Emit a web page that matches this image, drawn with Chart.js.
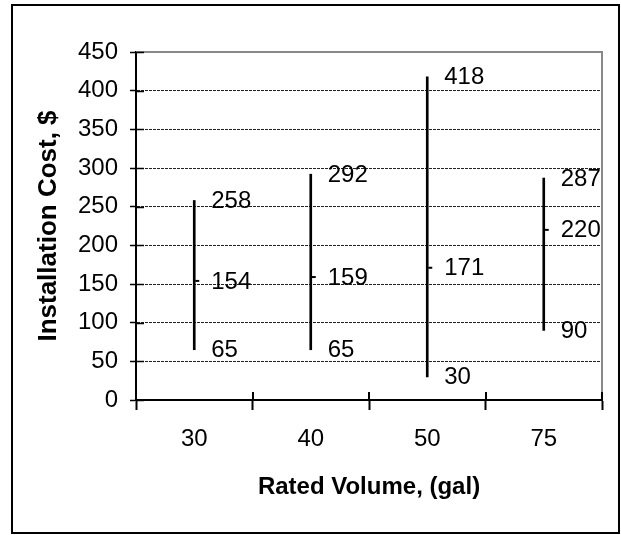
<!DOCTYPE html>
<html>
<head>
<meta charset="utf-8">
<script src="https://cdn.jsdelivr.net/npm/chart.js@4.4.0/dist/chart.umd.min.js"></script>
<style>
  body { margin: 0; background: #fff; }
  #frame {
    position: absolute; left: 11px; top: 4px; width: 609px; height: 530px;
    box-sizing: border-box; border: 2px solid #000;
  }
  #chart { position: absolute; left: 0; top: 0; }
</style>
</head>
<body>
<div id="frame"></div>
<canvas id="chart" width="621" height="535"></canvas>
<script>
// rated volume categories (gal) and installation cost stats ($)
const volumes = ['30', '40', '50', '75'];
const lowCost = [65, 65, 30, 90];
const highCost = [258, 292, 418, 287];
const meanCost = [154, 159, 171, 220];

const FONT = 'Liberation Sans, Arial, sans-serif';

// plot frame, inner halves of the tick marks, mean nubs and value labels
const extras = {
    id: 'extras',
    afterDraw(chart) {
        const ctx = chart.ctx;
        const area = chart.chartArea;
        const xs = chart.scales.x;
        const ys = chart.scales.y;
        ctx.save();

        // gray top/right border of the plot
        ctx.strokeStyle = '#888';
        ctx.lineWidth = 2;
        ctx.beginPath();
        ctx.moveTo(area.left, area.top);
        ctx.lineTo(area.right, area.top);
        ctx.lineTo(area.right, area.bottom);
        ctx.stroke();

        // y ticks cross into the plot
        ctx.strokeStyle = '#000';
        ctx.lineWidth = 1.5;
        ys.ticks.forEach(t => {
            const y = Math.round(ys.getPixelForValue(t.value)) + 0.5;
            ctx.beginPath();
            ctx.moveTo(area.left, y);
            ctx.lineTo(area.left + 8, y);
            ctx.stroke();
        });

        // x ticks cross into the plot (between categories)
        ctx.lineWidth = 2;
        const bounds = [area.left];
        for (let i = 1; i < volumes.length; i++) {
            bounds.push((xs.getPixelForValue(i - 1) + xs.getPixelForValue(i)) / 2);
        }
        bounds.push(area.right);
        bounds.forEach(x => {
            ctx.beginPath();
            ctx.moveTo(Math.round(x), area.bottom);
            ctx.lineTo(Math.round(x), area.bottom - 8);
            ctx.stroke();
        });

        // mean nubs and labels
        ctx.font = '24px ' + FONT;
        ctx.fillStyle = '#000';
        ctx.textAlign = 'left';
        ctx.textBaseline = 'middle';
        volumes.forEach((v, i) => {
            const x = xs.getPixelForValue(i);
            const ym = ys.getPixelForValue(meanCost[i]);
            ctx.beginPath();
            ctx.moveTo(x + 1, ym);
            ctx.lineTo(x + 5, ym);
            ctx.stroke();
            [highCost[i], meanCost[i], lowCost[i]].forEach(val => {
                ctx.fillText(String(val), x + 17, ys.getPixelForValue(val) + 1);
            });
        });
        ctx.restore();
    }
};

new Chart(document.getElementById('chart'), {
    type: 'bar',
    data: {
        labels: volumes,
        datasets: [{
            data: volumes.map((v, i) => [lowCost[i], highCost[i]]),
            backgroundColor: '#000',
            borderWidth: 0,
            barThickness: 2
        }]
    },
    options: {
        responsive: false,
        animation: false,
        layout: { padding: { top: 52, right: 19, left: 0, bottom: 0 } },
        plugins: {
            legend: { display: false },
            tooltip: { enabled: false }
        },
        scales: {
            x: {
                grid: {
                    display: true,
                    drawOnChartArea: false,
                    offset: true,
                    tickLength: 10,
                    tickWidth: 2,
                    tickColor: '#000'
                },
                border: { display: true, color: '#000', width: 2 },
                ticks: { color: '#000', padding: 15, font: { family: FONT, size: 24 } },
                title: {
                    display: true,
                    text: 'Rated Volume, (gal)',
                    color: '#000',
                    font: { family: FONT, size: 24, weight: 'bold' },
                    padding: { top: 0, bottom: 33 }
                },
                afterFit: s => { s.height = 135; }
            },
            y: {
                min: 0,
                max: 450,
                grid: {
                    color: '#222',
                    lineWidth: 1,
                    tickLength: 6,
                    tickWidth: 1.5,
                    tickColor: '#000'
                },
                border: { display: true, color: '#000', width: 2, dash: [3, 1] },
                ticks: { stepSize: 50, color: '#000', padding: 12, font: { family: FONT, size: 24 } },
                title: {
                    display: true,
                    text: 'Installation Cost, $',
                    color: '#000',
                    font: { family: FONT, size: 26, weight: 'bold' },
                    padding: { top: 33, bottom: 0 }
                },
                afterFit: s => { s.width = 136; }
            }
        }
    },
    plugins: [extras]
});
</script>
</body>
</html>
